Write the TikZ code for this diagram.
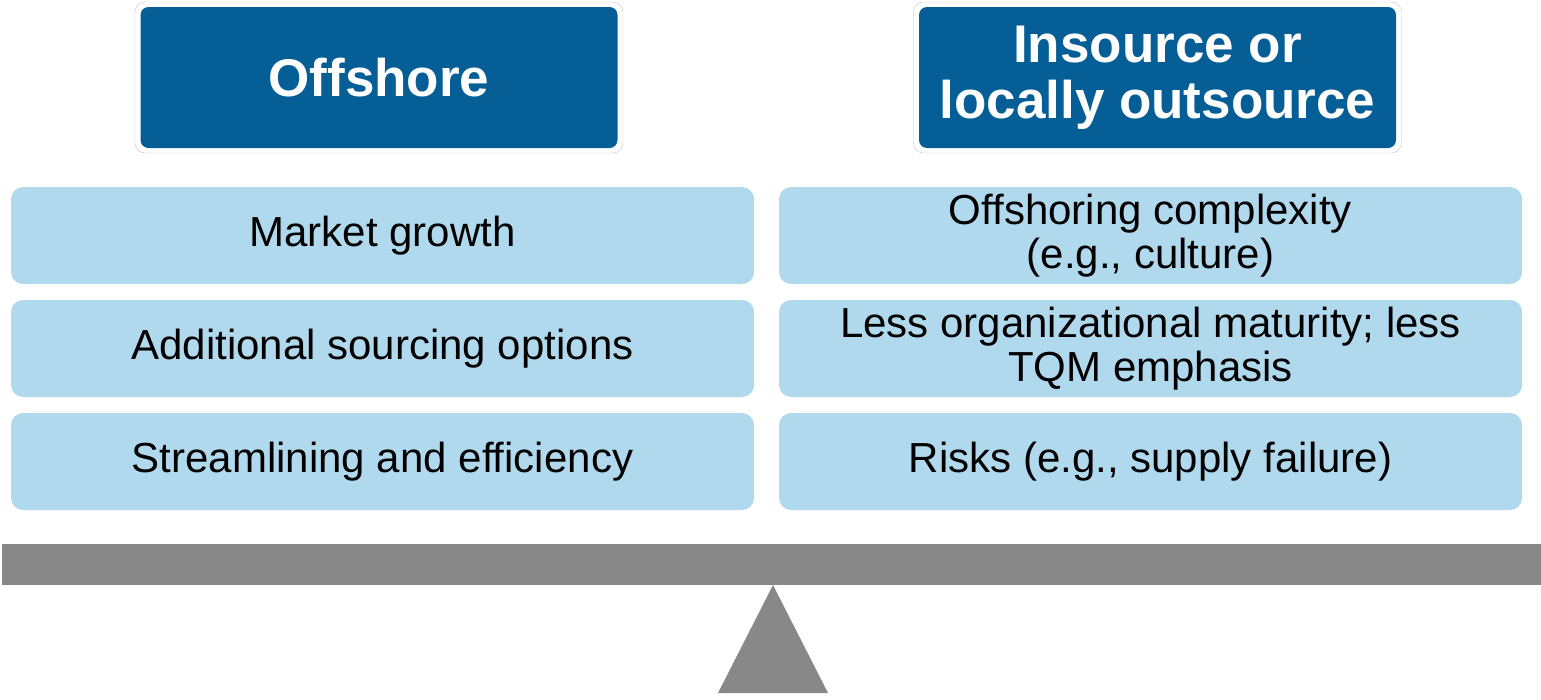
\documentclass[tikz,border=0pt]{standalone}
\usepackage{fontspec}
\setmainfont{Liberation Sans}
\usepackage{tikz}
\usetikzlibrary{positioning}
\definecolor{headblue}{HTML}{055E96}
\definecolor{factorblue}{HTML}{B0D9EE}
\definecolor{beamgray}{HTML}{888888}
\definecolor{framegray}{HTML}{C4C4C4}
\tikzset{
    headframe/.style={draw=framegray, fill=white, rounded corners=10pt, minimum width=488pt, minimum height=151pt, inner sep=0pt},
    headbox/.style={fill=headblue, text=white, rounded corners=8pt, minimum width=477pt, minimum height=141pt, inner sep=0pt, align=center, font=\fontsize{53}{56}\selectfont\bfseries},
    factor/.style={fill=factorblue, rounded corners=12pt, minimum width=743pt, minimum height=97pt, inner sep=0pt, align=center, font=\fontsize{42}{44}\selectfont}
}

\begin{document}
\begin{tikzpicture}[x=1pt, y=-1pt]
            \useasboundingbox (0,0) rectangle (1541,699);
            
            \node[headframe] (frameL) at (379, 77.5) {};
            \node[headbox] (offshore) at (379, 77.5) {Offshore};
            \node[headframe] (frameR) at (1157.5, 77.5) {};
            \node[headbox] (insource) at (1157.5, 77.5) {Insource or\\locally outsource};
            
            \node[factor] (growth) at (382.5, 235.5) {Market growth};
            \node[factor] (options) at (382.5, 348.5) {Additional sourcing options};
            \node[factor] (efficiency) at (382.5, 461.5) {Streamlining and efficiency};
            
            \node[factor] (complexity) at (1150.5, 235.5) {Offshoring complexity\\(e.g., culture)};
            \node[factor] (maturity) at (1150.5, 348.5) {Less organizational maturity; less\\TQM emphasis};
            \node[factor] (risks) at (1150.5, 461.5) {Risks (e.g., supply failure)};
            
            % balance beam and pivot
            \fill[beamgray] (2,544) rectangle (1541,585);
            \fill[beamgray] (773,585) -- (828,693) -- (718,693) -- cycle;
\end{tikzpicture}
\end{document}
